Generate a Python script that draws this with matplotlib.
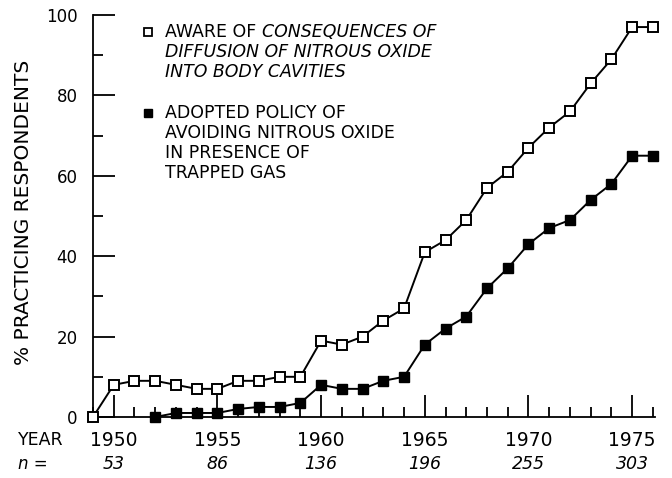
import matplotlib.pyplot as plt
from matplotlib.ticker import MultipleLocator

# values
years_aware = list(range(1949, 1977))
aware = [0, 8, 9, 9, 8, 7, 7, 9, 9, 10, 10, 19, 18, 20, 24, 27,
         41, 44, 49, 57, 61, 67, 72, 76, 83, 89, 97, 97]

years_policy = list(range(1952, 1977))
policy = [0, 1, 1, 1, 2, 2.5, 2.5, 3.5, 8, 7, 7, 9, 10,
          18, 22, 25, 32, 37, 43, 47, 49, 54, 58, 65, 65]

year_ticks = [1950, 1955, 1960, 1965, 1970, 1975]
n_counts = ["53", "86", "136", "196", "255", "303"]

plt.rcParams['font.family'] = ['DejaVu Sans']

W, H = 672, 478
fig = plt.figure(figsize=(W / 100, H / 100), dpi=100)
ax = fig.add_axes([93 / W, 1 - 417 / H, (655 - 93) / W, (417 - 15) / H])

ax.plot(years_aware, aware, color='black', lw=1.4, marker='s', ms=7,
        mfc='white', mec='black', mew=1.4, clip_on=False, zorder=5)
ax.plot(years_policy, policy, color='black', lw=1.4, marker='s', ms=7,
        mfc='black', mec='black', clip_on=False, zorder=5)

ax.set_xlim(1949, 1976.1)
ax.set_ylim(0, 100)
for s in ['top', 'right']:
    ax.spines[s].set_visible(False)
for s in ['left', 'bottom']:
    ax.spines[s].set_linewidth(1.3)

ax.xaxis.set_minor_locator(MultipleLocator(1))
ax.yaxis.set_major_locator(MultipleLocator(20))
ax.yaxis.set_minor_locator(MultipleLocator(10))
ax.set_xticks(year_ticks)
ax.tick_params(which='major', direction='in', length=16, width=1.3)
ax.tick_params(which='minor', direction='in', length=7.5, width=1.3)
ax.tick_params(axis='x', which='major', labelsize=13.5, pad=10)
ax.tick_params(axis='y', which='major', labelsize=12, pad=11)

ax.set_ylabel('% PRACTICING RESPONDENTS', fontsize=14.5)
ax.yaxis.set_label_coords(-0.107, 0.51)

# YEAR and n rows under the axis
fig.text(18 / W, 1 - 440 / H, 'YEAR', fontsize=12.5, va='center', ha='left')
fig.text(18 / W, 1 - 464 / H, 'n =', fontsize=12, style='italic',
         va='center', ha='left')
n_y = -(464 - 417) / (417 - 15)
for yr, n in zip(year_ticks, n_counts):
    ax.text(yr, n_y, n, transform=ax.get_xaxis_transform(), fontsize=12.5,
            style='italic', ha='center', va='center')

# legend drawn by hand
lx, tx = 148 / W, 165 / W
ax.plot([lx], [1 - 32 / H], transform=fig.transFigure, marker='s', ms=6,
        mfc='white', mec='black', mew=1.3, clip_on=False)
ax.plot([lx], [1 - 113 / H], transform=fig.transFigure, marker='s', ms=6,
        mfc='black', mec='black', clip_on=False)

fs = 12.5
t1 = fig.text(tx, 1 - 32 / H, 'AWARE OF ', fontsize=fs, va='center')
ax.annotate('CONSEQUENCES OF', xy=(1, 0.5), xycoords=t1, fontsize=fs,
            style='italic', va='center', ha='left')
fig.text(tx, 1 - 52 / H, 'DIFFUSION OF NITROUS OXIDE', fontsize=fs,
         style='italic', va='center')
fig.text(tx, 1 - 72 / H, 'INTO BODY CAVITIES', fontsize=fs,
         style='italic', va='center')
for i, line in enumerate(['ADOPTED POLICY OF', 'AVOIDING NITROUS OXIDE',
                          'IN PRESENCE OF', 'TRAPPED GAS']):
    fig.text(tx, 1 - (113 + 20 * i) / H, line, fontsize=fs, va='center')

fig.savefig('out.png', dpi=100)
